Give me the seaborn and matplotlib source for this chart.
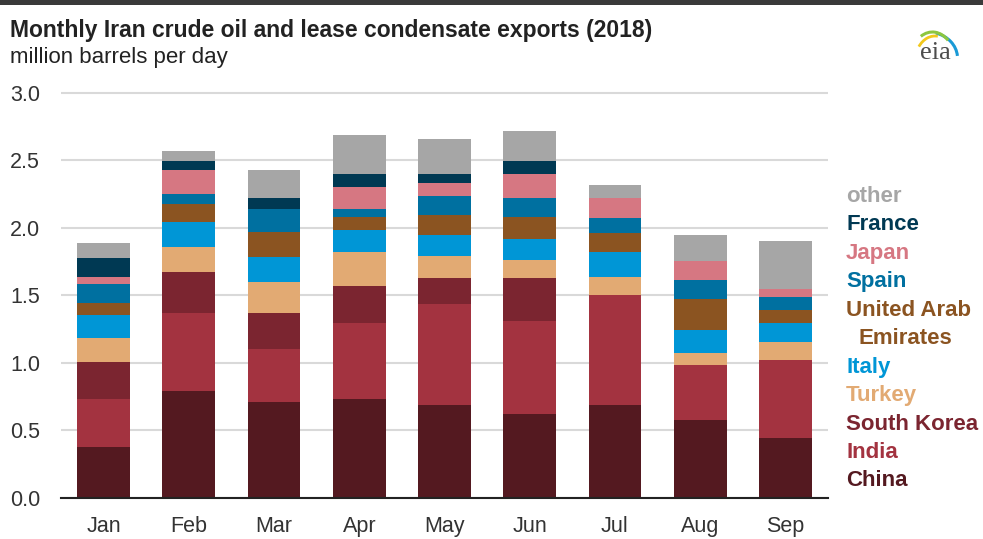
import numpy as np
import pandas as pd
import matplotlib
matplotlib.use("Agg")
import matplotlib.pyplot as plt
from matplotlib.patches import Rectangle, Arc
import seaborn as sns

# DATA (million barrels per day)

months = ["Jan", "Feb", "Mar", "Apr", "May", "Jun", "Jul", "Aug", "Sep"]

china       = [0.375, 0.789, 0.707, 0.732, 0.690, 0.621, 0.690, 0.579, 0.441]
india       = [0.357, 0.579, 0.397, 0.567, 0.745, 0.690, 0.814, 0.402, 0.579]
south_korea = [0.274, 0.303, 0.262, 0.274, 0.192, 0.316, 0.000, 0.000, 0.000]
turkey      = [0.182, 0.190, 0.236, 0.246, 0.165, 0.138, 0.135, 0.096, 0.138]
italy       = [0.165, 0.180, 0.180, 0.168, 0.153, 0.153, 0.183, 0.168, 0.139]
uae         = [0.094, 0.138, 0.190, 0.096, 0.150, 0.165, 0.138, 0.231, 0.096]
spain       = [0.140, 0.069, 0.167, 0.056, 0.138, 0.138, 0.110, 0.138, 0.098]
japan       = [0.052, 0.177, 0.000, 0.166, 0.096, 0.177, 0.151, 0.139, 0.054]
france      = [0.141, 0.072, 0.082, 0.093, 0.072, 0.099, 0.000, 0.000, 0.000]
other       = [0.108, 0.069, 0.207, 0.291, 0.259, 0.219, 0.094, 0.192, 0.355]

series = ["China", "India", "South Korea", "Turkey", "Italy",
          "United Arab Emirates", "Spain", "Japan", "France", "other"]
values = [china, india, south_korea, turkey, italy, uae, spain, japan, france, other]
colors = ["#541920", "#A33340", "#7B2530", "#E2AA73", "#0096D6",
          "#8B5421", "#0070A0", "#D67782", "#003953", "#A6A6A6"]

yticks = [0, 0.5, 1.0, 1.5, 2.0, 2.5, 3.0]

# legend lines, top to bottom (label, colour index into series, indent)
legend_lines = [("other", 9, 0), ("France", 8, 0), ("Japan", 7, 0), ("Spain", 6, 0),
                ("United Arab", 5, 0), ("Emirates", 5, 1), ("Italy", 4, 0),
                ("Turkey", 3, 0), ("South Korea", 2, 0), ("India", 1, 0), ("China", 0, 0)]

df = pd.DataFrame(dict(zip(series, values)))
cum = df[series].cumsum(axis=1)
cum["month"] = months

# STYLE

sns.set_style("white")
plt.rcParams["font.family"] = ["Liberation Sans", "DejaVu Sans"]

W, H = 983, 539
fig = plt.figure(figsize=(W / 100, H / 100), dpi=100)
ax = fig.add_axes([61 / W, 1 - 498 / H, (828 - 61) / W, (498 - 86) / H])

# draw cumulative totals from the top layer down so lower layers cover them
for name, col in zip(series[::-1], colors[::-1]):
    sns.barplot(data=cum, x="month", y=name, color=col, saturation=1,
                width=0.62, errorbar=None, edgecolor="none", linewidth=0, ax=ax)

ax.set_ylim(0, 3.05)
ax.set_xlim(-0.5, len(months) - 0.5)
ax.set_yticks(yticks)
ax.set_yticklabels([f"{v:.1f}" for v in yticks])
ax.set_xlabel("")
ax.set_ylabel("")
ax.grid(axis="y", color="#d9d9d9", lw=1.5)
ax.set_axisbelow(True)
for s in ["top", "right", "left"]:
    ax.spines[s].set_visible(False)
ax.spines["bottom"].set_color("#222222")
ax.spines["bottom"].set_linewidth(1.5)
ax.spines["bottom"].set_zorder(5)
ax.tick_params(axis="y", length=0, pad=15, labelsize=15.5, labelcolor="#333333")
ax.tick_params(axis="x", length=0, pad=13, labelsize=15.5, labelcolor="#333333")

# legend as coloured text on the right
for i, (lab, ci, indent) in enumerate(legend_lines):
    yb = 193 + i * 28.5 + 8.5
    fig.text((846 + 13 * indent) / W, 1 - yb / H, lab, color=colors[ci],
             fontsize=16, fontweight="bold", va="baseline", ha="left")

# title block
fig.add_artist(Rectangle((0, 1 - 5 / H), 1, 5 / H, transform=fig.transFigure,
                         color="#3a3a3a", lw=0))
fig.text(10 / W, 1 - 37 / H, "Monthly Iran crude oil and lease condensate exports (2018)",
         fontsize=16.5, fontweight="bold", color="#222222", va="baseline")
fig.text(10 / W, 1 - 63 / H, "million barrels per day", fontsize=16,
         color="#222222", va="baseline")

# eia logo
lg = fig.add_axes([910 / W, 1 - 66 / H, 50 / W, 40 / H])
lg.axis("off")
lg.set_xlim(0, 1)
lg.set_ylim(0, 1)
lg.text(0.5, 0.05, "eia", ha="center", va="bottom", fontsize=19,
        color="#4d4d4d", family=["Liberation Serif", "DejaVu Serif"])
lg.add_patch(Arc((0.35, 0.2), 1.2, 1.3, theta1=5, theta2=75, color="#1a9ad6", lw=2.2))
lg.add_patch(Arc((0.45, 0.1), 0.9, 1.5, theta1=60, theta2=110, color="#8dc63f", lw=2.2))
lg.add_patch(Arc((0.5, 0.1), 0.8, 1.3, theta1=85, theta2=130, color="#f2c81c", lw=2.0))

plt.savefig("out.png", dpi=100, facecolor="white")
plt.close()
